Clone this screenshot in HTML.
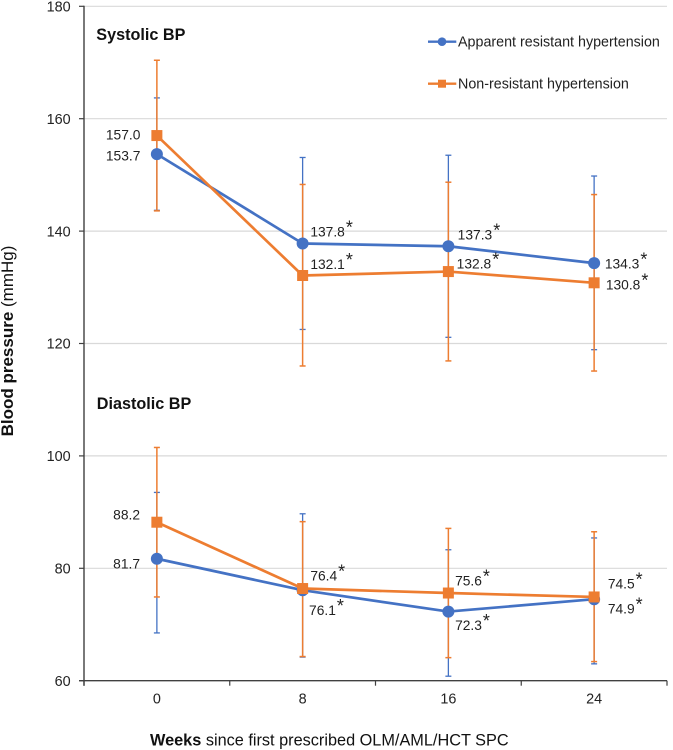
<!DOCTYPE html>
<html lang="en">
<head>
<meta charset="utf-8">
<title>Blood pressure over time</title>
<style>
html,body{margin:0;padding:0;background:#fff;}
svg{display:block;font-family:"Liberation Sans",Arial,sans-serif;}
</style>
</head>
<body>
<svg id="chart" width="673" height="750" viewBox="0 0 673 750" xmlns="http://www.w3.org/2000/svg"></svg>
<script>
const weeks = ['0', '8', '16', '24'];
const yTicks = [60, 80, 100, 120, 140, 160, 180];

const sysResistant = [153.7, 137.8, 137.3, 134.3];
const sysResistantHi = [163.7, 153.1, 153.5, 149.8];
const sysResistantLo = [143.7, 122.5, 121.1, 118.9];
const sysResistantLabels = ['153.7', '137.8', '137.3', '134.3'];

const sysNon = [157.0, 132.1, 132.8, 130.8];
const sysNonHi = [170.4, 148.3, 148.7, 146.5];
const sysNonLo = [143.6, 116.0, 116.9, 115.1];
const sysNonLabels = ['157.0', '132.1', '132.8', '130.8'];

const diaResistant = [81.7, 76.1, 72.3, 74.5];
const diaResistantHi = [93.5, 89.7, 83.3, 85.4];
const diaResistantLo = [68.5, 64.2, 60.8, 63.0];
const diaResistantLabels = ['81.7', '76.1', '72.3', '74.9'];

const diaNon = [88.2, 76.4, 75.6, 74.9];
const diaNonHi = [101.5, 88.3, 87.1, 86.5];
const diaNonLo = [74.9, 64.3, 64.1, 63.4];
const diaNonLabels = ['88.2', '76.4', '75.6', '74.5'];

const BLUE = '#4472c4';
const ORANGE = '#ed7d31';
const NS = 'http://www.w3.org/2000/svg';
const svg = document.getElementById('chart');

const plotLeft = 84, plotRight = 667;
const band = (plotRight - plotLeft) / weeks.length;
function xAt(i) { return plotLeft + band * (i + 0.5); }
function yAt(v) { return 680.7 - (v - 60) * 5.62; }

function mk(tag, attrs, text) {
  const el = document.createElementNS(NS, tag);
  for (const k in attrs) el.setAttribute(k, attrs[k]);
  if (text !== undefined) el.textContent = text;
  svg.appendChild(el);
  return el;
}

/* gridlines */
yTicks.forEach(function (t) {
  if (t === 60) return;
  const g = mk('line', {x1: plotLeft, x2: plotRight, y1: yAt(t), y2: yAt(t), stroke: '#d9d9d9', 'stroke-width': 1.2});
  
  
});

/* axes */
const yAxis = mk('line', {x1: plotLeft, x2: plotLeft, y1: yAt(180) - 0.5, y2: yAt(60) + 5, stroke: '#404040', 'stroke-width': 1.4});


const xAxis = mk('line', {x1: plotLeft - 5, x2: plotRight, y1: yAt(60), y2: yAt(60), stroke: '#404040', 'stroke-width': 1.4});



yTicks.forEach(function (t) {
  const m = mk('line', {x1: plotLeft - 5, x2: plotLeft, y1: yAt(t), y2: yAt(t), stroke: '#404040', 'stroke-width': 1.2});
  
  
  const l = mk('text', {x: 70.7, y: yAt(t) + 5.2, 'text-anchor': 'end', 'font-size': 14.4, fill: '#222'}, String(t));
  
  
});

for (let i = 0; i <= weeks.length; i++) {
  const xm = plotLeft + band * i;
  const m = mk('line', {x1: xm, x2: xm, y1: yAt(60), y2: yAt(60) + 5, stroke: '#404040', 'stroke-width': 1.2});
  
  
}
weeks.forEach(function (w, i) {
  const l = mk('text', {x: xAt(i), y: 703.5, 'text-anchor': 'middle', 'font-size': 14.4, fill: '#222'}, w);
  
  
});

/* series */
const series = [
  {name: 'systolic-resistant', color: BLUE, shape: 'circle', v: sysResistant, hi: sysResistantHi, lo: sysResistantLo, printed: sysResistantLabels,
   off: [[-51, 6.6], [7.7, -6.8], [9.3, -7], [10.7, 5.6]]},
  {name: 'diastolic-resistant', color: BLUE, shape: 'circle', v: diaResistant, hi: diaResistantHi, lo: diaResistantLo, printed: diaResistantLabels,
   off: [[-43.7, 9.6], [6.4, 24.8], [6.7, 18.4], [13.7, 14.5]]},
  {name: 'systolic-non-resistant', color: ORANGE, shape: 'square', v: sysNon, hi: sysNonHi, lo: sysNonLo, printed: sysNonLabels,
   off: [[-51, 3.7], [7.7, -6.5], [8.3, -3.3], [11.7, 6.5]]},
  {name: 'diastolic-non-resistant', color: ORANGE, shape: 'square', v: diaNon, hi: diaNonHi, lo: diaNonLo, printed: diaNonLabels,
   off: [[-43.7, -2.5], [7.7, -7.8], [6.7, -7.3], [13.7, -8.6]]}
];

/* error bars sit under all lines and markers */
series.forEach(function (s) {
  s.v.forEach(function (_, i) {
    const x = xAt(i), t = yAt(s.hi[i]), b = yAt(s.lo[i]);
    const w = s.color === ORANGE ? 1.5 : 1.3;
    const bar = mk('line', {x1: x, x2: x, y1: t, y2: b, stroke: s.color, 'stroke-width': w});
    
    
    const capTop = mk('line', {x1: x - 3, x2: x + 3, y1: t, y2: t, stroke: s.color, 'stroke-width': w});
    
    
    const capBot = mk('line', {x1: x - 3, x2: x + 3, y1: b, y2: b, stroke: s.color, 'stroke-width': w});
    
    
  });
});

series.forEach(function (s) {
  const pts = s.v.map(function (v, i) { return xAt(i) + ',' + yAt(v); }).join(' ');
  const line = mk('polyline', {points: pts, fill: 'none', stroke: s.color, 'stroke-width': 2.7, 'stroke-linejoin': 'round'});
  
  
  s.v.forEach(function (v, i) {
    const x = xAt(i), y = yAt(v);
    let mark;
    if (s.shape === 'circle') {
      mark = mk('circle', {cx: x, cy: y, r: 6, fill: s.color});
    } else {
      mark = mk('rect', {x: x - 5.5, y: y - 5.5, width: 11, height: 11, fill: s.color});
    }
    
    
  });
});

/* printed value labels */
series.forEach(function (s) {
  s.v.forEach(function (v, i) {
    const t = mk('text', {x: xAt(i) + s.off[i][0], y: yAt(v) + s.off[i][1], 'font-size': 13.8, fill: '#222'}, s.printed[i]);
    
    
    if (i > 0) {
      const star = document.createElementNS(NS, 'tspan');
      star.setAttribute('dx', '1');
      star.setAttribute('dy', '-3');
      star.setAttribute('font-size', '18');
      star.textContent = '*';
      t.appendChild(star);
    }
  });
});

/* panel titles */
const sysTitle = mk('text', {x: 96.3, y: 40, 'font-size': 16.2, 'font-weight': 'bold', fill: '#111'}, 'Systolic BP');


const diaTitle = mk('text', {x: 96.8, y: 409, 'font-size': 16.2, 'font-weight': 'bold', fill: '#111'}, 'Diastolic BP');



/* legend */
const legendLine1 = mk('line', {x1: 428, x2: 456.3, y1: 41.7, y2: 41.7, stroke: BLUE, 'stroke-width': 2.4});


const legendDot = mk('circle', {cx: 442, cy: 41.7, r: 4.3, fill: BLUE});


const legendText1 = mk('text', {x: 458, y: 46.7, 'font-size': 14.3, fill: '#222'}, 'Apparent resistant hypertension');


const legendLine2 = mk('line', {x1: 428, x2: 456.3, y1: 83.7, y2: 83.7, stroke: ORANGE, 'stroke-width': 2.4});


const legendSquare = mk('rect', {x: 438, y: 79.7, width: 8, height: 8, fill: ORANGE});


const legendText2 = mk('text', {x: 458, y: 88.7, 'font-size': 14.3, fill: '#222'}, 'Non-resistant hypertension');



/* axis titles */
const yTitle = mk('text', {transform: 'translate(13,341) rotate(-90)', 'text-anchor': 'middle', 'font-size': 17, fill: '#111'});


const yBold = document.createElementNS(NS, 'tspan');
yBold.setAttribute('font-weight', 'bold');
yBold.textContent = 'Blood pressure';
yTitle.appendChild(yBold);
yTitle.appendChild(document.createTextNode(' (mmHg)'));

const xTitle = mk('text', {x: 150, y: 745.5, 'font-size': 16.3, fill: '#111'});


const xBold = document.createElementNS(NS, 'tspan');
xBold.setAttribute('font-weight', 'bold');
xBold.textContent = 'Weeks';
xTitle.appendChild(xBold);
xTitle.appendChild(document.createTextNode(' since first prescribed OLM/AML/HCT SPC'));
</script>
</body>
</html>
